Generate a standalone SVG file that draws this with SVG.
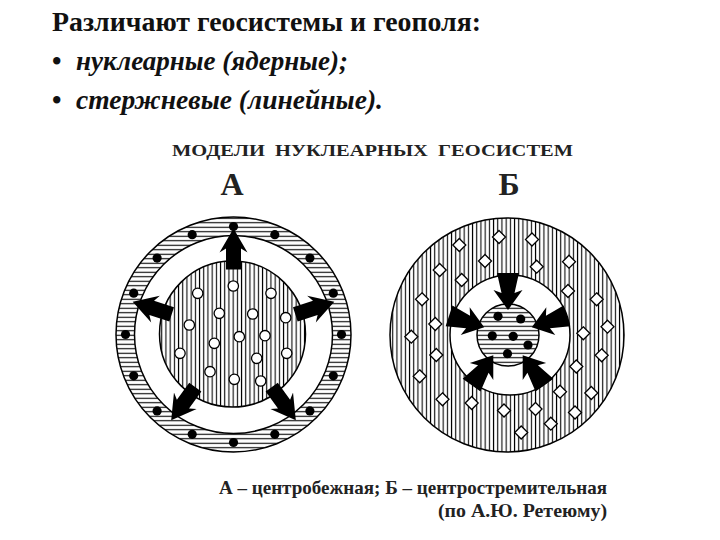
<svg xmlns="http://www.w3.org/2000/svg" xmlns:xlink="http://www.w3.org/1999/xlink" width="720" height="540" viewBox="0 0 720 540">
<style>
text{font-family:"Liberation Serif","Times New Roman",serif;fill:#111}
.b{font-weight:bold}
.bi{font-weight:bold;font-style:italic}
.edge{stroke:#000;stroke-width:1.5}
.dot{fill:#000}
.hol{fill:#fff;stroke:#000;stroke-width:1.3}
.dia{fill:#fff;stroke:#000;stroke-width:1.3}
.arr{fill:#000}
</style>
<defs>
<pattern id="vs" width="4.2" height="10" patternUnits="userSpaceOnUse"><rect width="4.2" height="10" fill="#fff"/><rect x="1.6" y="0" width="1.1" height="10" fill="#000"/></pattern>
<pattern id="hs" width="10" height="4.5" patternUnits="userSpaceOnUse"><rect width="10" height="4.5" fill="#fff"/><rect x="0" y="1.7" width="10" height="1.1" fill="#000"/></pattern>
<polygon id="arrOut" points="-7.5,-65 -7.5,-86 -14,-82 0,-106 14,-82 7.5,-86 7.5,-65"/>
<polygon id="arrIn" points="-11,-62 -6.5,-42 -14.5,-45 0,-25 14.5,-45 6.5,-42 11,-62"/>
<polygon id="dm" points="0,-6.5 6.5,0 0,6.5 -6.5,0"/>
</defs>
<rect width="720" height="540" fill="#fff"/>

<g id="heading">
<text class="b" x="52" y="31" font-size="28" textLength="429" lengthAdjust="spacingAndGlyphs">Различают геосистемы и геополя:</text>
<text class="b" x="52" y="70" font-size="27">•</text>
<text class="bi" x="76" y="70" font-size="27.5" textLength="272" lengthAdjust="spacingAndGlyphs">нуклеарные (ядерные);</text>
<text class="b" x="52" y="109" font-size="27">•</text>
<text class="bi" x="76" y="109" font-size="27.5" textLength="307" lengthAdjust="spacingAndGlyphs">стержневые (линейные).</text>
</g>

<g id="figure-title">
<text class="b" x="172" y="156" font-size="16.5" textLength="401" lengthAdjust="spacingAndGlyphs" style="fill:#222">МОДЕЛИ&#160; НУКЛЕАРНЫХ&#160; ГЕОСИСТЕМ</text>
<text class="b" x="232" y="195" font-size="32" text-anchor="middle" style="fill:#222">А</text>
<text class="b" x="509" y="195" font-size="32" text-anchor="middle" style="fill:#222">Б</text>
</g>

<g id="model-a">
<circle class="edge" cx="233.5" cy="334.5" r="117.5" fill="url(#hs)"/>
<circle class="edge" cx="233.5" cy="334.5" r="99" fill="#fff"/>
<circle class="edge" cx="232.5" cy="334" r="73" fill="url(#vs)"/>
<g class="dot">
<circle cx="233.5" cy="226.5" r="4.6"/><circle cx="274.8" cy="234.7" r="4.6"/><circle cx="309.9" cy="258.1" r="4.6"/><circle cx="333.3" cy="293.2" r="4.6"/>
<circle cx="341.5" cy="334.5" r="4.6"/><circle cx="333.3" cy="375.8" r="4.6"/><circle cx="309.9" cy="410.9" r="4.6"/><circle cx="274.8" cy="434.3" r="4.6"/>
<circle cx="233.5" cy="442.5" r="4.6"/><circle cx="192.2" cy="434.3" r="4.6"/><circle cx="157.1" cy="410.9" r="4.6"/><circle cx="133.7" cy="375.8" r="4.6"/>
<circle cx="125.5" cy="334.5" r="4.6"/><circle cx="133.7" cy="293.2" r="4.6"/><circle cx="157.1" cy="258.1" r="4.6"/><circle cx="192.2" cy="234.7" r="4.6"/>
</g>
<g class="hol">
<circle cx="233.3" cy="286" r="5.2"/><circle cx="197.7" cy="293.3" r="5.2"/><circle cx="271" cy="293.3" r="5.2"/><circle cx="219.3" cy="313.3" r="5.2"/>
<circle cx="252.7" cy="314" r="5.2"/><circle cx="285.7" cy="317.7" r="5.2"/><circle cx="189.3" cy="325" r="5.2"/><circle cx="239.3" cy="336.7" r="5.2"/>
<circle cx="265" cy="335.7" r="5.2"/><circle cx="214.3" cy="343.3" r="5.2"/><circle cx="180" cy="353.3" r="5.2"/><circle cx="286.7" cy="353.3" r="5.2"/>
<circle cx="256.7" cy="358.3" r="5.2"/><circle cx="210" cy="371.7" r="5.2"/><circle cx="234.3" cy="379.3" r="5.2"/><circle cx="260.7" cy="381" r="5.2"/>
</g>
</g>

<g id="model-b">
<circle class="edge" cx="507" cy="335" r="117" fill="url(#vs)"/>
<g class="dia">
<use xlink:href="#dm" x="499" y="237"/><use xlink:href="#dm" x="532" y="239.5"/><use xlink:href="#dm" x="459.3" y="245"/><use xlink:href="#dm" x="485" y="261"/>
<use xlink:href="#dm" x="536.7" y="266.7"/><use xlink:href="#dm" x="569" y="261.7"/><use xlink:href="#dm" x="439.7" y="270"/><use xlink:href="#dm" x="461.7" y="280"/>
<use xlink:href="#dm" x="422" y="299.3"/><use xlink:href="#dm" x="568" y="291"/><use xlink:href="#dm" x="596.7" y="299.3"/><use xlink:href="#dm" x="435.3" y="324"/>
<use xlink:href="#dm" x="411.3" y="336.7"/><use xlink:href="#dm" x="583.3" y="333.3"/><use xlink:href="#dm" x="607.5" y="326.7"/><use xlink:href="#dm" x="436.3" y="355"/>
<use xlink:href="#dm" x="601.7" y="355.3"/><use xlink:href="#dm" x="576.3" y="366.5"/><use xlink:href="#dm" x="419.7" y="376.3"/><use xlink:href="#dm" x="560" y="391.7"/>
<use xlink:href="#dm" x="591.3" y="393"/><use xlink:href="#dm" x="442.5" y="399.3"/><use xlink:href="#dm" x="471.7" y="403"/><use xlink:href="#dm" x="504" y="410.5"/>
<use xlink:href="#dm" x="535.5" y="409"/><use xlink:href="#dm" x="575" y="412.5"/><use xlink:href="#dm" x="550.8" y="423.7"/><use xlink:href="#dm" x="521.2" y="432.5"/>
</g>
<circle class="edge" cx="510" cy="335" r="60" fill="#fff"/>
<circle class="edge" cx="508" cy="335" r="31" fill="url(#hs)"/>
<g class="dot">
<circle cx="498" cy="316.3" r="4.6"/><circle cx="520.7" cy="319" r="4.6"/><circle cx="492.3" cy="335.8" r="4.6"/>
<circle cx="513.2" cy="336.3" r="4.6"/><circle cx="528" cy="345" r="4.6"/><circle cx="507.5" cy="353.7" r="4.6"/>
</g>
</g>

<g id="connectors" class="arr">
<g transform="translate(233.5 334.5)">
<use xlink:href="#arrOut"/>
<use xlink:href="#arrOut" transform="rotate(72)"/>
<use xlink:href="#arrOut" transform="rotate(144)"/>
<use xlink:href="#arrOut" transform="rotate(216)"/>
<use xlink:href="#arrOut" transform="rotate(288)"/>
</g>
<g transform="translate(508 335)">
<use xlink:href="#arrIn"/>
<use xlink:href="#arrIn" transform="rotate(72)"/>
<use xlink:href="#arrIn" transform="rotate(144)"/>
<use xlink:href="#arrIn" transform="rotate(216)"/>
<use xlink:href="#arrIn" transform="rotate(288)"/>
</g>
</g>

<g id="caption">
<text class="b" x="219" y="494" font-size="19" textLength="388" lengthAdjust="spacingAndGlyphs" style="fill:#222">А – центробежная; Б – центростремительная</text>
<text class="b" x="438" y="517" font-size="19" textLength="169" lengthAdjust="spacingAndGlyphs" style="fill:#222">(по А.Ю. Ретеюму)</text>
</g>
</svg>
